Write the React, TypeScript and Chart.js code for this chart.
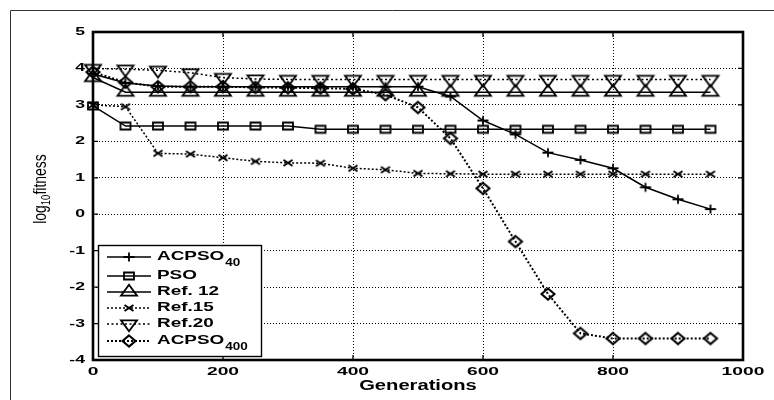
import React, { useEffect, useRef } from 'react';
import { Chart, registerables } from 'chart.js';
Chart.register(...registerables);

// ---------- data ----------
const generations = [0, 50, 100, 150, 200, 250, 300, 350, 400, 450, 500, 550, 600, 650, 700, 750, 800, 850, 900, 950];
const acpso40 = [3.85, 3.6, 3.52, 3.5, 3.5, 3.5, 3.5, 3.5, 3.5, 3.5, 3.5, 3.23, 2.57, 2.19, 1.69, 1.49, 1.26, 0.74, 0.41, 0.14];
const pso = [2.97, 2.42, 2.42, 2.42, 2.42, 2.42, 2.42, 2.33, 2.33, 2.33, 2.33, 2.33, 2.33, 2.33, 2.33, 2.33, 2.33, 2.33, 2.33, 2.33];
const ref12 = [3.75, 3.35, 3.35, 3.35, 3.35, 3.35, 3.35, 3.35, 3.35, 3.35, 3.35, 3.35, 3.35, 3.35, 3.35, 3.35, 3.35, 3.35, 3.35, 3.35];
const ref15 = [3.0, 2.95, 1.67, 1.65, 1.55, 1.45, 1.41, 1.4, 1.26, 1.22, 1.12, 1.11, 1.1, 1.1, 1.1, 1.1, 1.1, 1.1, 1.1, 1.1];
const ref20 = [4.0, 3.98, 3.95, 3.88, 3.75, 3.71, 3.7, 3.7, 3.7, 3.7, 3.7, 3.7, 3.7, 3.7, 3.7, 3.7, 3.7, 3.7, 3.7, 3.7];
const acpso400 = [3.9, 3.62, 3.5, 3.5, 3.5, 3.48, 3.47, 3.46, 3.44, 3.28, 2.93, 2.08, 0.71, -0.75, -2.19, -3.27, -3.41, -3.41, -3.41, -3.41];

const seriesNames = ['ACPSO', 'PSO', 'Ref. 12', 'Ref.15', 'Ref.20', 'ACPSO'];
const seriesSubs = ['40', '', '', '', '', '400'];
const xTickLabels = ['0', '200', '400', '600', '800', '1000'];
const yTickLabels = ['-4', '-3', '-2', '-1', '0', '1', '2', '3', '4', '5'];
const xTitle = 'Generations';
const yTitleParts = ['log', '10', 'fitness'];

// ---------- styles ----------
const FONT = '"Liberation Sans", Arial, sans-serif';
const markerKinds = ['plus', 'square', 'triUp', 'cross', 'triDown', 'diamond'];
const dashes: number[][] = [[], [], [], [2, 2], [2, 2.5], [2, 2]];
const widths = [1.5, 1.5, 1.5, 1.5, 1.5, 2];

function makeMarker(kind: string): HTMLCanvasElement {
  const c = document.createElement('canvas');
  c.width = 22;
  c.height = 22;
  const g = c.getContext('2d')!;
  const cx = 11, cy = 11;
  g.strokeStyle = '#000';
  g.lineWidth = 1.8;
  g.beginPath();
  switch (kind) {
    case 'plus':
      g.moveTo(cx - 5.5, cy); g.lineTo(cx + 5.5, cy);
      g.moveTo(cx, cy - 4.5); g.lineTo(cx, cy + 4.5);
      break;
    case 'square':
      g.rect(cx - 5, cy - 3.5, 10, 7);
      break;
    case 'triUp':
      g.moveTo(cx, cy - 7.3); g.lineTo(cx + 8, cy + 3.7); g.lineTo(cx - 8, cy + 3.7); g.closePath();
      break;
    case 'triDown':
      g.moveTo(cx, cy + 7.3); g.lineTo(cx + 8, cy - 3.7); g.lineTo(cx - 8, cy - 3.7); g.closePath();
      break;
    case 'cross':
      g.lineWidth = 2;
      g.moveTo(cx - 4.5, cy - 3); g.lineTo(cx + 4.5, cy + 3);
      g.moveTo(cx + 4.5, cy - 3); g.lineTo(cx - 4.5, cy + 3);
      break;
    case 'diamond':
      g.lineWidth = 2.1;
      g.moveTo(cx, cy - 5.5); g.lineTo(cx + 6.5, cy); g.lineTo(cx, cy + 5.5); g.lineTo(cx - 6.5, cy); g.closePath();
      break;
  }
  g.stroke();
  return c;
}

function stretchText(ctx: CanvasRenderingContext2D, text: string, x: number, y: number, sx: number, align: CanvasTextAlign) {
  ctx.save();
  ctx.translate(x, y);
  ctx.scale(sx, 1);
  ctx.textAlign = align;
  ctx.fillText(text, 0, 0);
  ctx.restore();
}

export default function App() {
  const ref = useRef<HTMLCanvasElement>(null);

  useEffect(() => {
    document.body.style.margin = '0';
    const markers = markerKinds.map(makeMarker);
    const seriesData = [acpso40, pso, ref12, ref15, ref20, acpso400];

    const decorPlugin = {
      id: 'decor',
      afterDraw(chart: any) {
        const ctx: CanvasRenderingContext2D = chart.ctx;
        const a = chart.chartArea;
        const xs = chart.scales.x;
        const ys = chart.scales.y;
        ctx.save();
        // outer figure border
        ctx.strokeStyle = '#333';
        ctx.lineWidth = 1;
        ctx.beginPath();
        ctx.moveTo(10.5, 400);
        ctx.lineTo(10.5, 10.5);
        ctx.lineTo(774, 10.5);
        ctx.stroke();

        // inward ticks
        ctx.strokeStyle = '#000';
        ctx.lineWidth = 1.3;
        ctx.beginPath();
        xTickLabels.forEach((t) => {
          const px = xs.getPixelForValue(Number(t));
          ctx.moveTo(px, a.top); ctx.lineTo(px, a.top + 5);
          ctx.moveTo(px, a.bottom); ctx.lineTo(px, a.bottom - 5);
        });
        yTickLabels.forEach((t) => {
          const py = ys.getPixelForValue(Number(t));
          ctx.moveTo(a.left, py); ctx.lineTo(a.left + 5, py);
          ctx.moveTo(a.right, py); ctx.lineTo(a.right - 5, py);
        });
        ctx.stroke();

        // frame
        ctx.lineWidth = 2.6;
        ctx.strokeRect(a.left, a.top, a.right - a.left, a.bottom - a.top);

        // tick labels
        ctx.fillStyle = '#000';
        ctx.font = `bold 11px ${FONT}`;
        ctx.textBaseline = 'middle';
        xTickLabels.forEach((t) => {
          stretchText(ctx, t, xs.getPixelForValue(Number(t)), 371.5, 1.75, 'center');
        });
        yTickLabels.forEach((t) => {
          stretchText(ctx, t, 85, ys.getPixelForValue(Number(t)), 1.6, 'right');
        });

        // x title
        ctx.font = `bold 14px ${FONT}`;
        stretchText(ctx, xTitle, (a.left + a.right) / 2, 386, 1.44, 'center');

        // y title (rotated, with subscript)
        ctx.save();
        ctx.translate(46, 189);
        ctx.rotate(-Math.PI / 2);
        ctx.scale(1, 1.25);
        ctx.textBaseline = 'alphabetic';
        ctx.textAlign = 'left';
        const bigF = `14px ${FONT}`;
        const smallF = `9.5px ${FONT}`;
        ctx.font = bigF;
        const w0 = ctx.measureText(yTitleParts[0]).width;
        const w2 = ctx.measureText(yTitleParts[2]).width;
        ctx.font = smallF;
        const w1 = ctx.measureText(yTitleParts[1]).width;
        const sx0 = -(w0 + w1 + w2) / 2;
        ctx.font = bigF;
        ctx.fillText(yTitleParts[0], sx0, 0);
        ctx.font = smallF;
        ctx.fillText(yTitleParts[1], sx0 + w0, 3);
        ctx.font = bigF;
        ctx.fillText(yTitleParts[2], sx0 + w0 + w1, 0);
        ctx.restore();

        // legend
        const lx = 98.5, ly = 245.5, lw = 163, lh = 111;
        ctx.fillStyle = '#fff';
        ctx.fillRect(lx, ly, lw, lh);
        ctx.strokeStyle = '#000';
        ctx.lineWidth = 1.4;
        ctx.strokeRect(lx, ly, lw, lh);
        const rows = [257, 276, 292, 308, 324, 341];
        seriesNames.forEach((name, i) => {
          const y = rows[i];
          ctx.save();
          ctx.strokeStyle = '#000';
          ctx.lineWidth = widths[i];
          ctx.setLineDash(dashes[i]);
          ctx.beginPath();
          ctx.moveTo(107, y);
          ctx.lineTo(151, y);
          ctx.stroke();
          ctx.restore();
          const m = markers[i];
          ctx.drawImage(m, 129 - m.width / 2, y - m.height / 2);
          ctx.fillStyle = '#000';
          ctx.textBaseline = 'middle';
          ctx.font = `bold 13.5px ${FONT}`;
          stretchText(ctx, name, 157, y - 1, 1.4, 'left');
          if (seriesSubs[i]) {
            const nw = ctx.measureText(name).width * 1.4;
            ctx.font = `bold 10px ${FONT}`;
            stretchText(ctx, seriesSubs[i], 157 + nw + 1, y + 6, 1.35, 'left');
          }
        });
        ctx.restore();
      },
    };

    const chart = new Chart(ref.current!, {
      type: 'line',
      data: {
        datasets: seriesData.map((vals, i) => ({
          label: seriesNames[i] + seriesSubs[i],
          data: generations.map((g, j) => ({ x: g, y: vals[j] })),
          borderColor: '#000',
          backgroundColor: 'transparent',
          borderWidth: widths[i],
          borderDash: dashes[i],
          pointStyle: markers[i] as any,
          pointRadius: 5,
          pointHoverRadius: 5,
          tension: 0,
          fill: false,
          clip: false as any,
        })),
      },
      options: {
        animation: false,
        responsive: false,
        devicePixelRatio: 1,
        events: [],
        layout: { padding: { left: 0, right: 31, top: 32, bottom: 0 } },
        plugins: {
          legend: { display: false },
          tooltip: { enabled: false },
          title: { display: false },
        },
        scales: {
          x: {
            type: 'linear',
            min: 0,
            max: 1000,
            ticks: { stepSize: 200, display: false },
            grid: { color: '#000', lineWidth: 1, drawTicks: false },
            border: { display: false, dash: [1, 2] },
            afterFit: (s: any) => { s.height = 40; },
          },
          y: {
            type: 'linear',
            min: -4,
            max: 5,
            ticks: { stepSize: 1, display: false },
            grid: { color: '#000', lineWidth: 1, drawTicks: false },
            border: { display: false, dash: [1, 2] },
            afterFit: (s: any) => { s.width = 93; },
          },
        },
      },
      plugins: [decorPlugin],
    });
    return () => chart.destroy();
  }, []);

  return (
    <div style={{ position: 'fixed', left: 0, top: 0, width: 774, height: 400, background: '#fff' }}>
      <canvas ref={ref} width={774} height={400} />
    </div>
  );
}
